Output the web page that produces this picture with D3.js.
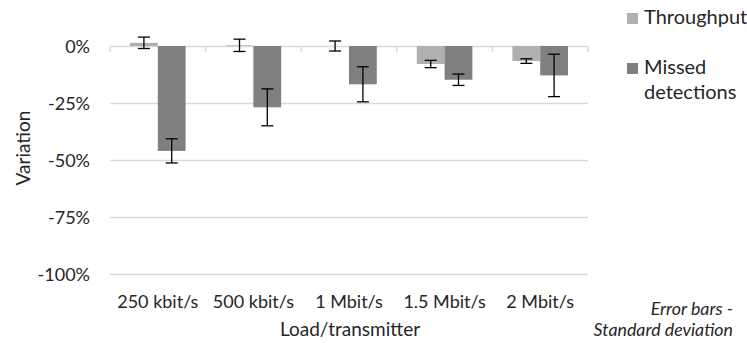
<!DOCTYPE html>
<html>
<head>
<meta charset="utf-8">
<script src="https://cdn.jsdelivr.net/npm/d3@7/dist/d3.min.js"></script>
<style>
  html, body { margin: 0; padding: 0; background: #fff; }
  svg text { font-family: Lato, "Open Sans", sans-serif; fill: #262626; }
</style>
</head>
<body>
<svg id="chart" width="747" height="343"></svg>
<script>
// Load per transmitter
const categories = ["250 kbit/s", "500 kbit/s", "1 Mbit/s", "1.5 Mbit/s", "2 Mbit/s"];
const seriesNames = ["Throughput", "Missed detections"];
// Mean variation (%)
const throughput = [1.4, 0.3, 0, -7.9, -6.6];
const missed = [-46.0, -26.9, -16.8, -14.8, -12.9];
// Standard deviation (%)
const throughputSd = [2.5, 2.7, 2.2, 1.6, 1.0];
const missedSd = [5.3, 8.1, 7.7, 2.5, 9.3];
const yTicks = [0, -25, -50, -75, -100];

const colors = ["#b0b0b0", "#808080"];

const svg = d3.select("#chart");
const margin = { left: 110, right: 159, top: 46, bottom: 69 };
const W = 747, H = 343;

const x = d3.scaleBand().domain(categories)
  .range([margin.left, W - margin.right]).paddingInner(0).paddingOuter(0);
const sub = d3.scaleBand().domain(seriesNames)
  .range([0, x.bandwidth()]).paddingOuter(0.72).paddingInner(0);
const y = d3.scaleLinear().domain([-100, 0]).range([H - margin.bottom, margin.top]);

// Gridlines
svg.append("g").selectAll("line").data(yTicks).join("line")
  .attr("x1", margin.left).attr("x2", W - margin.right)
  .attr("y1", d => y(d) + 0.5).attr("y2", d => y(d) + 0.5)
  .attr("stroke", "#d9d9d9").attr("stroke-width", 1.5);

// Category axis tick marks at the zero line
const bounds = categories.map(c => x(c)).concat([x.range()[1]]);
svg.append("g").selectAll("line").data(bounds).join("line")
  .attr("x1", d => d).attr("x2", d => d)
  .attr("y1", y(0)).attr("y2", y(0) + 6)
  .attr("stroke", "#d9d9d9").attr("stroke-width", 1.5);

// Y tick labels
const yAxis = d3.axisLeft(y).tickValues(yTicks).tickSize(0).tickPadding(0)
  .tickFormat(d => d + "%");
const gy = svg.append("g").attr("transform", `translate(${margin.left - 20},0)`).call(yAxis);
gy.select(".domain").remove();
gy.selectAll("text").attr("font-size", 18).attr("fill", "#262626")
  .style("font-family", "Lato, sans-serif").attr("dy", "0.35em");

// X tick labels
const xAxis = d3.axisBottom(x).tickSize(0).tickPadding(0);
const gx = svg.append("g").attr("transform", `translate(0,${y(-100) + 20})`).call(xAxis);
gx.select(".domain").remove();
gx.selectAll("text").attr("font-size", 18).attr("fill", "#262626")
  .style("font-family", "Lato, sans-serif").attr("dy", "0.8em");

// Bars
const series = [
  { name: seriesNames[0], values: throughput, sd: throughputSd, color: colors[0] },
  { name: seriesNames[1], values: missed, sd: missedSd, color: colors[1] }
];
const rows = [];
series.forEach(s => categories.forEach((c, i) => rows.push({
  cat: c, name: s.name, v: s.values[i], sd: s.sd[i], color: s.color
})));

svg.append("g").selectAll("rect").data(rows).join("rect")
  .attr("x", d => x(d.cat) + sub(d.name))
  .attr("width", sub.bandwidth())
  .attr("y", d => y(Math.max(0, d.v)))
  .attr("height", d => Math.abs(y(d.v) - y(0)))
  .attr("fill", d => d.color);

// Error bars
const eb = svg.append("g").attr("stroke", "#000").attr("stroke-width", 1.3);
rows.forEach(d => {
  const cx = x(d.cat) + sub(d.name) + sub.bandwidth() / 2;
  const y1 = y(d.v + d.sd), y2 = y(d.v - d.sd);
  eb.append("line").attr("x1", cx).attr("x2", cx).attr("y1", y1).attr("y2", y2);
  eb.append("line").attr("x1", cx - 6).attr("x2", cx + 6).attr("y1", y1).attr("y2", y1);
  eb.append("line").attr("x1", cx - 6).attr("x2", cx + 6).attr("y1", y2).attr("y2", y2);
});

// Axis titles
svg.append("text").attr("transform", `translate(30,${(y(0) + y(-100)) / 2 - 12}) rotate(-90)`)
  .attr("text-anchor", "middle").attr("font-size", 19).text("Variation");
svg.append("text").attr("x", (margin.left + W - margin.right) / 2 + 1).attr("y", 336)
  .attr("text-anchor", "middle").attr("font-size", 19).text("Load/transmitter");

// Legend
const legendItems = [
  { lines: ["Throughput"], color: colors[0], y: 24 },
  { lines: ["Missed", "detections"], color: colors[1], y: 74 }
];
const lg = svg.append("g");
legendItems.forEach(it => {
  lg.append("rect").attr("x", 627).attr("y", it.y - 11).attr("width", 11).attr("height", 11)
    .attr("fill", it.color);
  const t = lg.append("text").attr("x", 644).attr("y", it.y).attr("font-size", 20);
  it.lines.forEach((l, i) => t.append("tspan").attr("x", 644).attr("dy", i ? 25 : 0).text(l));
});

// Note
const note = svg.append("text").attr("text-anchor", "end").attr("font-size", 17.8)
  .attr("font-style", "italic");
note.append("tspan").attr("x", 733).attr("y", 315).text("Error bars -");
note.append("tspan").attr("x", 733).attr("y", 336).text("Standard deviation");
</script>
</body>
</html>
